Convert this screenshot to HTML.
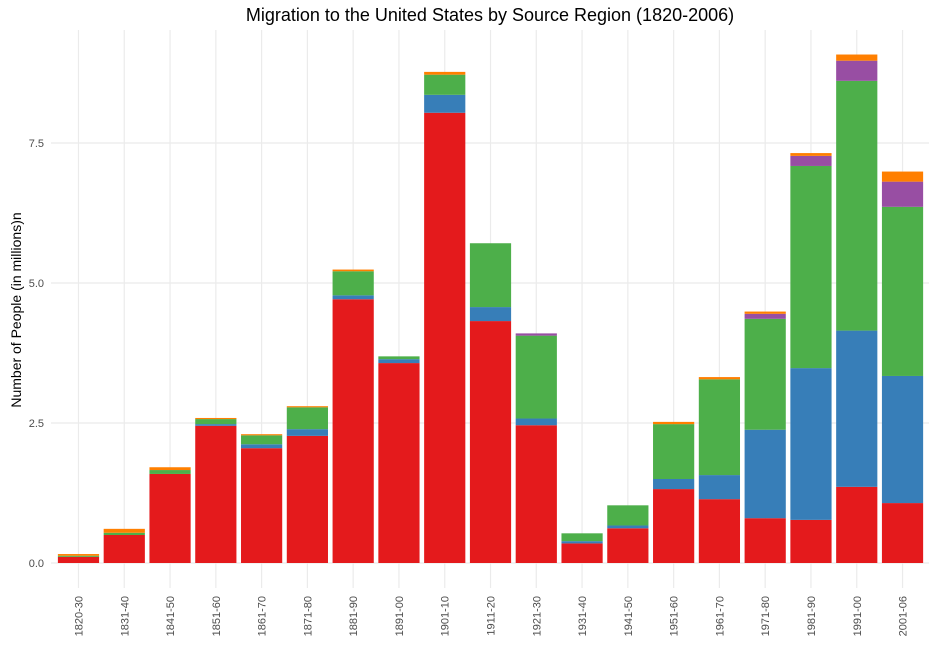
<!DOCTYPE html>
<html><head><meta charset="utf-8"><style>
body{margin:0;background:#fff;}
svg text{font-family:"Liberation Sans",sans-serif;}
</style></head><body>
<svg id="chart" width="937" height="648" xmlns="http://www.w3.org/2000/svg">
<rect width="937" height="648" fill="#fff"/>
<text x="490" y="21" text-anchor="middle" font-size="18" fill="#000">Migration to the United States by Source Region (1820-2006)</text>
<text transform="translate(21,310) rotate(-90)" text-anchor="middle" font-size="14" fill="#000">Number of People (in millions)n</text>
<g id="grid"></g><g id="bars"></g><g id="axes"></g>
</svg>
<script>
const categories=["1820-30","1831-40","1841-50","1851-60","1861-70","1871-80","1881-90","1891-00","1901-10","1911-20","1921-30","1931-40","1941-50","1951-60","1961-70","1971-80","1981-90","1991-00","2001-06"];
const europe=[0.11,0.50,1.59,2.45,2.05,2.27,4.71,3.57,8.04,4.32,2.46,0.35,0.62,1.32,1.14,0.80,0.77,1.36,1.07];
const asia=[0.00,0.00,0.00,0.03,0.07,0.12,0.07,0.07,0.32,0.25,0.12,0.04,0.05,0.18,0.43,1.58,2.71,2.79,2.27];
const americas=[0.02,0.04,0.07,0.09,0.16,0.39,0.43,0.05,0.36,1.14,1.48,0.14,0.36,0.98,1.71,1.98,3.61,4.46,3.02];
const africa=[0.00,0.00,0.00,0.00,0.00,0.00,0.00,0.00,0.00,0.00,0.04,0.00,0.00,0.00,0.00,0.09,0.18,0.36,0.45];
const other=[0.03,0.07,0.05,0.02,0.02,0.02,0.03,0.00,0.05,0.00,0.00,0.00,0.00,0.04,0.04,0.04,0.05,0.11,0.18];
const yTicks=[0,2.5,5,7.5];
const yTickLabels=["0.0","2.5","5.0","7.5"];
const series=[europe,asia,americas,africa,other];
const colors=["#E41A1C","#377EB8","#4DAF4A","#984EA3","#FF7F00"];
const seriesNames=["europe","asia","americas","africa","other"];
const NS="http://www.w3.org/2000/svg";
const x0=55.6,step=45.78,y0=563,ppu=56;
const xC=i=>x0+step*(i+0.5);
const yS=v=>y0-v*ppu;
const grid=document.getElementById('grid'),bars=document.getElementById('bars'),axes=document.getElementById('axes');
function mk(tag,attrs,parent){const e=document.createElementNS(NS,tag);for(const k in attrs)e.setAttribute(k,attrs[k]);parent.appendChild(e);return e;}
yTicks.forEach((t,i)=>{
  const l=mk('line',{x1:51,x2:929,y1:yS(t),y2:yS(t),stroke:'#ebebeb','stroke-width':1.2},grid);
  
  
  const tx=mk('text',{x:44,y:yS(t)+4,'text-anchor':'end','font-size':11,fill:'#4d4d4d'},axes);
  tx.textContent=yTickLabels[i];
  
  
});
categories.forEach((c,i)=>{
  const l=mk('line',{x1:xC(i),x2:xC(i),y1:30,y2:588,stroke:'#ebebeb','stroke-width':1.2},grid);
  
  
  let cum=0;
  series.forEach((s,k)=>{
    const v=s[i];if(v<=0)return;
    const r=mk('rect',{x:xC(i)-20.6,width:41.2,y:yS(cum+v),height:v*ppu,fill:colors[k]},bars);
    
    
    cum+=v;
  });
  const tx=mk('text',{transform:`translate(${xC(i)+4},596) rotate(-90)`,'text-anchor':'end','font-size':11,fill:'#4d4d4d'},axes);
  tx.textContent=c;
  
  
});
</script>
</body></html>
